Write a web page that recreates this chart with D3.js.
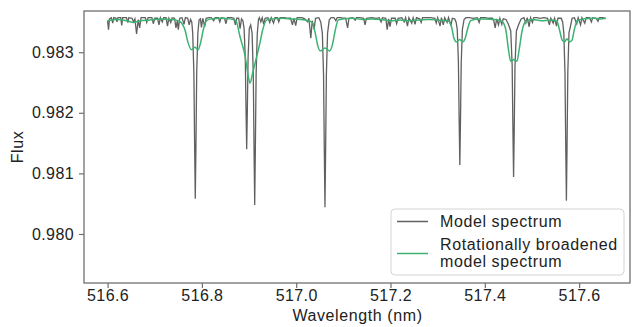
<!DOCTYPE html>
<html>

<head>
	<meta charset="utf-8">
    <script src="https://d3js.org/d3.v7.min.js"></script>
    <style>
        body { margin: 0; background: #fff; }
        text { font-family: "Liberation Sans", Arial, sans-serif; fill: #222; }
    </style>
</head>
<body>
    <script>
        // Model spectrum [wavelength nm, flux]
        let modelSpectrum = [
            [516.600, 0.98352], [516.602, 0.98337], [516.604, 0.98355], [516.608, 0.98357],
            [516.611, 0.98348], [516.613, 0.98357], [516.618, 0.98356], [516.620, 0.98350],
            [516.622, 0.98357], [516.628, 0.98357], [516.630, 0.98344], [516.632, 0.98357],
            [516.640, 0.98357], [516.643, 0.98349], [516.645, 0.98357], [516.652, 0.98356],
            [516.655, 0.98350], [516.658, 0.98355], [516.6615, 0.98330], [516.665, 0.98354],
            [516.668, 0.98340], [516.671, 0.98357], [516.680, 0.98357], [516.683, 0.98349],
            [516.686, 0.98357], [516.694, 0.98357], [516.697, 0.98347], [516.700, 0.98356],
            [516.706, 0.98356], [516.709, 0.98345], [516.712, 0.98357], [516.716, 0.98350],
            [516.719, 0.98357], [516.724, 0.98357], [516.727, 0.98343], [516.730, 0.98356],
            [516.734, 0.98349], [516.737, 0.98357], [516.742, 0.98356], [516.745, 0.98340],
            [516.748, 0.98352], [516.750, 0.98337], [516.753, 0.98356], [516.758, 0.98357],
            [516.762, 0.98346], [516.765, 0.98357], [516.770, 0.98356], [516.773, 0.98345],
            [516.776, 0.98354], [516.7785, 0.98350], [516.7805, 0.98332], [516.783, 0.98266],
            [516.7846, 0.98147], [516.786, 0.98058], [516.7874, 0.98147], [516.789, 0.98266],
            [516.7915, 0.98332], [516.794, 0.98353], [516.797, 0.98355], [516.799, 0.98341],
            [516.802, 0.98356], [516.806, 0.98342], [516.809, 0.98356], [516.815, 0.98357],
            [516.820, 0.98357], [516.825, 0.98352], [516.828, 0.98357], [516.835, 0.98357],
            [516.838, 0.98350], [516.841, 0.98357], [516.848, 0.98356], [516.851, 0.98347],
            [516.854, 0.98357], [516.862, 0.98357], [516.868, 0.98356], [516.871, 0.98345],
            [516.874, 0.98356], [516.878, 0.98356], [516.881, 0.98339], [516.884, 0.98355],
            [516.887, 0.98352], [516.8895, 0.98339], [516.892, 0.98292], [516.8936, 0.98205],
            [516.895, 0.98140], [516.8964, 0.98205], [516.898, 0.98292], [516.9005, 0.98339],
            [516.9035, 0.98345], [516.9065, 0.98331], [516.909, 0.98264], [516.9106, 0.98141],
            [516.912, 0.98048], [516.9134, 0.98141], [516.915, 0.98264], [516.9175, 0.98331],
            [516.920, 0.98354], [516.922, 0.98357], [516.925, 0.98350],
            [516.928, 0.98357], [516.931, 0.98346], [516.934, 0.98356], [516.940, 0.98357],
            [516.944, 0.98349], [516.947, 0.98357], [516.952, 0.98348], [516.955, 0.98357],
            [516.960, 0.98357], [516.963, 0.98350], [516.966, 0.98357], [516.975, 0.98357],
            [516.982, 0.98356], [516.988, 0.98356], [516.992, 0.98345], [516.995, 0.98356],
            [516.999, 0.98344], [517.002, 0.98357], [517.012, 0.98357], [517.018, 0.98355],
            [517.024, 0.98350], [517.027, 0.98356], [517.031, 0.98323], [517.034, 0.98352],
            [517.038, 0.98338], [517.041, 0.98356], [517.048, 0.98357], [517.052, 0.98350],
            [517.0555, 0.98331], [517.058, 0.98263], [517.0596, 0.98138], [517.061, 0.98044],
            [517.0624, 0.98138], [517.064, 0.98263], [517.0665, 0.98331], [517.070, 0.98353],
            [517.074, 0.98357], [517.080, 0.98357], [517.084, 0.98352], [517.087, 0.98357],
            [517.095, 0.98357], [517.100, 0.98356], [517.105, 0.98356], [517.109, 0.98340],
            [517.112, 0.98356], [517.120, 0.98357], [517.125, 0.98353], [517.128, 0.98357],
            [517.135, 0.98357], [517.143, 0.98356], [517.146, 0.98345], [517.149, 0.98356],
            [517.160, 0.98357], [517.170, 0.98356], [517.176, 0.98357], [517.180, 0.98350],
            [517.183, 0.98357], [517.190, 0.98356], [517.193, 0.98337], [517.196, 0.98355],
            [517.199, 0.98342], [517.202, 0.98356], [517.210, 0.98356], [517.213, 0.98347],
            [517.216, 0.98356], [517.224, 0.98357], [517.229, 0.98350], [517.232, 0.98357],
            [517.236, 0.98343], [517.239, 0.98357], [517.245, 0.98348], [517.248, 0.98357],
            [517.252, 0.98346], [517.255, 0.98357], [517.262, 0.98355], [517.265, 0.98349],
            [517.268, 0.98357], [517.275, 0.98357], [517.285, 0.98357], [517.294, 0.98356],
            [517.297, 0.98348], [517.300, 0.98357], [517.305, 0.98343], [517.308, 0.98357],
            [517.312, 0.98345], [517.315, 0.98357], [517.320, 0.98349], [517.323, 0.98357],
            [517.328, 0.98344], [517.331, 0.98356], [517.336, 0.98355], [517.339, 0.98350],
            [517.3415, 0.98338], [517.344, 0.98284], [517.3456, 0.98187], [517.347, 0.98114],
            [517.3484, 0.98187], [517.350, 0.98284], [517.3525, 0.98338], [517.356, 0.98354],
            [517.360, 0.98357], [517.368, 0.98357], [517.375, 0.98356], [517.384, 0.98357],
            [517.388, 0.98349], [517.391, 0.98357], [517.400, 0.98357], [517.408, 0.98356],
            [517.416, 0.98356], [517.419, 0.98352], [517.422, 0.98340], [517.425, 0.98355],
            [517.429, 0.98345], [517.432, 0.98356], [517.436, 0.98346], [517.439, 0.98355],
            [517.445, 0.98354], [517.450, 0.98346], [517.455, 0.98335], [517.458, 0.98278],
            [517.4596, 0.98173], [517.461, 0.98094], [517.4624, 0.98173], [517.464, 0.98278],
            [517.467, 0.98335], [517.472, 0.98346],
            [517.477, 0.98355], [517.483, 0.98357], [517.487, 0.98348], [517.490, 0.98357],
            [517.494, 0.98342], [517.497, 0.98357], [517.501, 0.98349], [517.504, 0.98357],
            [517.510, 0.98357], [517.518, 0.98356], [517.525, 0.98357], [517.533, 0.98356],
            [517.537, 0.98345], [517.540, 0.98356], [517.545, 0.98348], [517.548, 0.98356],
            [517.552, 0.98343], [517.555, 0.98356], [517.562, 0.98356], [517.565, 0.98350],
            [517.5675, 0.98332], [517.570, 0.98266], [517.5716, 0.98146], [517.573, 0.98055],
            [517.5744, 0.98146], [517.576, 0.98266], [517.5785, 0.98332], [517.582, 0.98344],
            [517.585, 0.98356], [517.590, 0.98357], [517.595, 0.98347],
            [517.598, 0.98357], [517.603, 0.98345], [517.606, 0.98357], [517.612, 0.98348],
            [517.615, 0.98357], [517.622, 0.98357], [517.626, 0.98350], [517.629, 0.98357],
            [517.636, 0.98356], [517.640, 0.98351], [517.643, 0.98357], [517.650, 0.98357],
            [517.656, 0.98356]
        ];

        // Rotationally broadened spectrum [wavelength nm, flux]
        let broadSpectrum = [
            [516.600, 0.98352], [516.620, 0.98354], [516.640, 0.98352], [516.655, 0.98349],
            [516.670, 0.98352], [516.690, 0.98353], [516.710, 0.98355], [516.730, 0.98354],
            [516.745, 0.98353], [516.753, 0.98351], [516.764, 0.98337], [516.771, 0.98315],
            [516.778, 0.98304], [516.785, 0.98308], [516.792, 0.98304], [516.797, 0.98315],
            [516.803, 0.98337], [516.810, 0.98352], [516.820, 0.98355], [516.840, 0.98356],
            [516.860, 0.98355], [516.872, 0.98352], [516.881, 0.98325], [516.892, 0.98292],
            [516.898, 0.98262], [516.902, 0.98249], [516.908, 0.98267], [516.916, 0.98292],
            [516.923, 0.98315], [516.929, 0.98337], [516.937, 0.98353], [516.950, 0.98355],
            [516.970, 0.98356], [516.990, 0.98355], [517.010, 0.98354], [517.025, 0.98352],
            [517.033, 0.98350], [517.040, 0.98333], [517.046, 0.98310], [517.051, 0.98302],
            [517.061, 0.98307], [517.071, 0.98302], [517.076, 0.98310], [517.082, 0.98333],
            [517.089, 0.98353], [517.100, 0.98355], [517.120, 0.98356], [517.140, 0.98354],
            [517.160, 0.98355], [517.180, 0.98354], [517.200, 0.98352], [517.220, 0.98353],
            [517.240, 0.98352], [517.260, 0.98353], [517.280, 0.98354], [517.300, 0.98353],
            [517.316, 0.98352], [517.324, 0.98351], [517.330, 0.98340], [517.335, 0.98322],
            [517.340, 0.98317], [517.347, 0.98321], [517.353, 0.98317], [517.358, 0.98322],
            [517.364, 0.98340], [517.370, 0.98352], [517.385, 0.98355], [517.400, 0.98355],
            [517.420, 0.98354], [517.433, 0.98352], [517.438, 0.98350], [517.445, 0.98335],
            [517.450, 0.98305], [517.455, 0.98285], [517.461, 0.98288], [517.468, 0.98285],
            [517.473, 0.98305], [517.479, 0.98335], [517.486, 0.98350], [517.500, 0.98354],
            [517.520, 0.98352], [517.540, 0.98353], [517.553, 0.98351], [517.558, 0.98338],
            [517.564, 0.98320], [517.569, 0.98317], [517.574, 0.98322], [517.580, 0.98317],
            [517.585, 0.98320], [517.590, 0.98338], [517.596, 0.98352], [517.610, 0.98355],
            [517.630, 0.98356], [517.645, 0.98355], [517.657, 0.98356]
        ];

        let xTicks = [516.6, 516.8, 517.0, 517.2, 517.4, 517.6];
        let yTicks = [0.980, 0.981, 0.982, 0.983];
        let seriesNames = ["Model spectrum", "Rotationally broadened\nmodel spectrum"];
        let seriesColors = ["#606060", "#3cb371"];

        let width = 632, height = 327;
        let margin = {top: 11, right: 1, bottom: 44, left: 84};

        let svg = d3.select("body").append("svg")
            .attr("width", width)
            .attr("height", height);

        let x = d3.scaleLinear()
            .domain([516.55, 517.71])
            .range([margin.left, width - margin.right]);

        let y = d3.scaleLinear()
            .domain([0.979191, 0.98368])
            .range([height - margin.bottom, margin.top]);

        // Lines
        let line = d3.line()
            .x(function(d) {return x(d[0]);})
            .y(function(d) {return y(d[1]);});

        svg.append("path")
            .datum(modelSpectrum)
            .attr("d", line)
            .style("fill", "none")
            .style("stroke", seriesColors[0])
            .style("stroke-width", 1.3);

        svg.append("path")
            .datum(broadSpectrum)
            .attr("d", line.curve(d3.curveMonotoneX))
            .style("fill", "none")
            .style("stroke", seriesColors[1])
            .style("stroke-width", 1.5);

        // Axes
        let xAxis = svg.append("g")
            .attr("transform", `translate(0,${height - margin.bottom})`)
            .call(d3.axisBottom(x).tickValues(xTicks).tickFormat(d3.format(".1f")).tickSize(5));

        let yAxis = svg.append("g")
            .attr("transform", `translate(${margin.left},0)`)
            .call(d3.axisLeft(y).tickValues(yTicks).tickFormat(d3.format(".3f")).tickSize(5).tickPadding(5));

        xAxis.selectAll("text").attr("y", 7);

        svg.selectAll(".tick line").style("stroke", "#707070").style("stroke-width", 1.2);
        svg.selectAll(".tick text")
            .style("font-size", "16px")
            .style("letter-spacing", "0.4px")
            .style("fill", "#222")
            .attr("font-family", null);
        svg.selectAll(".domain").remove();

        // Frame
        svg.append("rect")
            .attr("x", margin.left)
            .attr("y", margin.top)
            .attr("width", width - margin.left - margin.right - 1)
            .attr("height", height - margin.top - margin.bottom)
            .style("fill", "none")
            .style("stroke", "#707070")
            .style("stroke-width", 1.3);

        // Axis labels
        svg.append("text")
            .attr("x", (margin.left + width - margin.right) / 2)
            .attr("y", 321)
            .attr("text-anchor", "middle")
            .style("font-size", "16px")
            .style("letter-spacing", "0.6px")
            .text("Wavelength (nm)");

        svg.append("text")
            .attr("transform", `translate(23,${(margin.top + height - margin.bottom) / 2}) rotate(-90)`)
            .attr("text-anchor", "middle")
            .style("font-size", "16px")
            .style("letter-spacing", "0.6px")
            .text("Flux");

        // Legend
        let legend = svg.append("g");

        legend.append("rect")
            .attr("x", 391)
            .attr("y", 209)
            .attr("width", 233)
            .attr("height", 66)
            .attr("rx", 4)
            .style("fill", "white")
            .style("fill-opacity", 0.85)
            .style("stroke", "#d4d4d4");

        let rows = [221.5, 253.5];
        rows.forEach(function(ry, i) {
            legend.append("line")
                .attr("x1", 397).attr("x2", 428)
                .attr("y1", ry).attr("y2", ry)
                .style("stroke", seriesColors[i])
                .style("stroke-width", 1.5);
        });

        legend.append("text")
            .attr("x", 440).attr("y", 227.3)
            .style("font-size", "16px")
            .style("letter-spacing", "0.6px")
            .text(seriesNames[0]);

        seriesNames[1].split("\n").forEach(function(t, i) {
            legend.append("text")
                .attr("x", 440).attr("y", 250 + i * 16.5)
                .style("font-size", "16px")
                .style("letter-spacing", "0.6px")
                .text(t);
        });
    </script>
</body>
</html>
